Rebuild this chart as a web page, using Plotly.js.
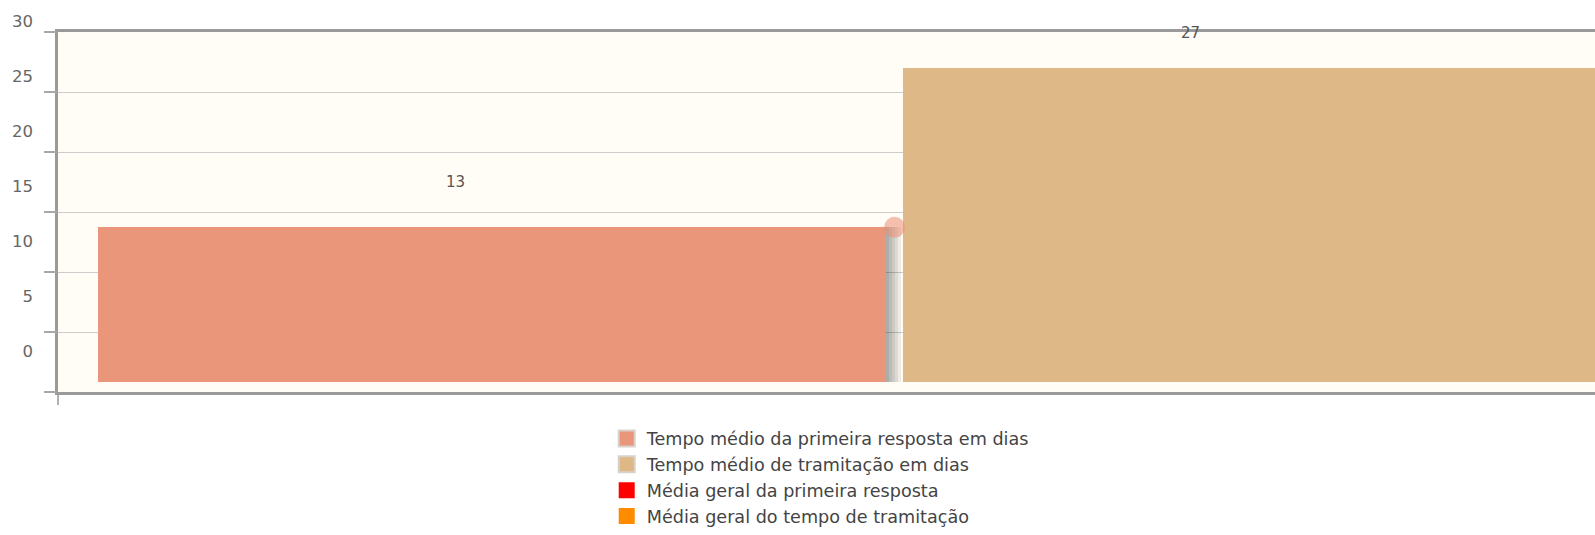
<!DOCTYPE html>
<html>
<head>
<meta charset="utf-8">
<script src="https://cdn.plot.ly/plotly-3.0.1.min.js"></script>
<style>html,body{margin:0;padding:0;background:#fff;}#chart{width:1595px;height:535px;}</style>
</head>
<body>
<div id="chart"></div>
<script>
// ---- data ----
const seriesNames = [
  'Tempo médio da primeira resposta em dias',
  'Tempo médio de tramitação em dias',
  'Média geral da primeira resposta',
  'Média geral do tempo de tramitação'
];
const barValues = [13.3, 27];          // bars (labels show rounded values)
const mediaGeralPrimeira = [];         // no visible points
const mediaGeralTramitacao = [];       // no visible points
const yTickValues = [0, 5, 10, 15, 20, 25, 30];

// ---- style ----
const colors = ['#E9967A', '#DEB887', '#FF0000', '#FF8C00'];
const W = 1595, H = 535;
const M = {l: 58, r: 0, t: 32, b: 143, autoexpand: false};
const plotW = W - M.l - M.r;
const xRange = [-0.539, 1.370];
const pxToX = (xRange[1] - xRange[0]) / plotW;
const barWidth = 0.979;
const fontFam = 'DejaVu Sans, sans-serif';

const idx = barValues.map((v, i) => i);
const traces = [];

// jqPlot-like shadows (offset copies to the right)
barValues.forEach((v, i) => {
  for (let k = 1; k <= 5; k++) {
    traces.push({
      type: 'bar', x: [idx[i]], y: [v], width: barWidth,
      offset: -barWidth / 2 + k * 3 * pxToX,
      marker: {color: 'rgba(0,0,0,0.07)', line: {width: 0}},
      showlegend: false, hoverinfo: 'skip', xaxis: 'x', yaxis: 'y'
    });
  }
});

// bars
barValues.forEach((v, i) => {
  traces.push({
    type: 'bar', x: [idx[i]], y: [v], width: barWidth,
    name: seriesNames[i], legendgroup: 'g' + i,
    marker: {color: colors[i], line: {width: 0}},
    showlegend: false, hovertemplate: seriesNames[i] + ': %{y:.0f}<extra></extra>',
    xaxis: 'x', yaxis: 'y'
  });
});

// highlight circle between the bars at first bar's value
traces.push({
  type: 'scatter', mode: 'markers',
  x: [(idx[0] + idx[1]) / 2], y: [barValues[0]],
  marker: {size: 21, color: 'rgba(236,140,115,0.55)'},
  showlegend: false, hoverinfo: 'skip'
});

// média geral series (no visible points)
traces.push({type: 'scatter', mode: 'lines', x: mediaGeralPrimeira.map((v, i) => i), y: mediaGeralPrimeira,
  line: {color: colors[2]}, showlegend: false, name: seriesNames[2]});
traces.push({type: 'scatter', mode: 'lines', x: mediaGeralTramitacao.map((v, i) => i), y: mediaGeralTramitacao,
  line: {color: colors[3]}, showlegend: false, name: seriesNames[3]});

// empty traces so the grid axis and the label axis get drawn
traces.push({type: 'scatter', mode: 'markers', x: [], y: [], yaxis: 'y2', showlegend: false, hoverinfo: 'skip'});
traces.push({type: 'scatter', mode: 'markers', x: [], y: [], yaxis: 'y3', showlegend: false, hoverinfo: 'skip'});

// legend entries
seriesNames.forEach((n, i) => {
  traces.push({
    type: 'scatter', mode: 'markers', x: [null], y: [null], name: n,
    marker: {symbol: 'square', size: 16, color: colors[i],
      line: {color: i < 2 ? '#d9d2ca' : 'rgba(0,0,0,0)', width: i < 2 ? 2 : 0}},
    hoverinfo: 'skip'
  });
});

const labelShifts = [[-36, 45], [-107, 35]];
const annotations = barValues.map((v, i) => ({
  x: idx[i], y: v, xref: 'x', yref: 'y', text: String(Math.round(v)),
  showarrow: false, xshift: labelShifts[i][0], yshift: labelShifts[i][1],
  font: {family: fontFam, size: 15, color: '#555'}
}));

const layout = {
  width: W, height: H, margin: M,
  paper_bgcolor: '#ffffff', plot_bgcolor: '#fffdf6',
  barmode: 'overlay', bargap: 0,
  showlegend: true,
  xaxis: {
    range: xRange, showgrid: false, zeroline: false, fixedrange: true,
    showline: true, linecolor: '#9a9a9a', linewidth: 3, mirror: true,
    ticks: 'outside', tickvals: [xRange[0]], ticklen: 10, tickcolor: '#b0b0b0', tickwidth: 1.5,
    showticklabels: false
  },
  yaxis: {
    range: [-0.86, 30.09], showgrid: false, zeroline: false, fixedrange: true,
    showticklabels: false, ticks: '',
    showline: true, linecolor: '#9a9a9a', linewidth: 3
  },
  yaxis2: {
    overlaying: 'y', range: [0, 6], tick0: 0, dtick: 1, fixedrange: true,
    showgrid: true, gridcolor: '#cccccc', gridwidth: 1,
    ticks: 'outside', ticklen: 13, tickcolor: '#a8a8a8', tickwidth: 1.5,
    showticklabels: false, zeroline: false, showline: false
  },
  yaxis3: {
    overlaying: 'y', range: [-2.573, 30.155], tickvals: yTickValues, fixedrange: true,
    showgrid: false, zeroline: false, showline: false, ticks: '',
    ticklabelshift: -12, ticklabelstandoff: 24,
    tickfont: {family: fontFam, size: 16.5, color: '#666'}
  },
  legend: {
    orientation: 'v', x: 0.357, xanchor: 'left', y: -0.079, yanchor: 'top',
    font: {family: fontFam, size: 17.6, color: '#444'},
    bgcolor: 'rgba(0,0,0,0)'
  },
  annotations: annotations,
  hovermode: false
};

Plotly.newPlot('chart', traces, layout, {displayModeBar: false, staticPlot: true});
</script>
</body>
</html>
